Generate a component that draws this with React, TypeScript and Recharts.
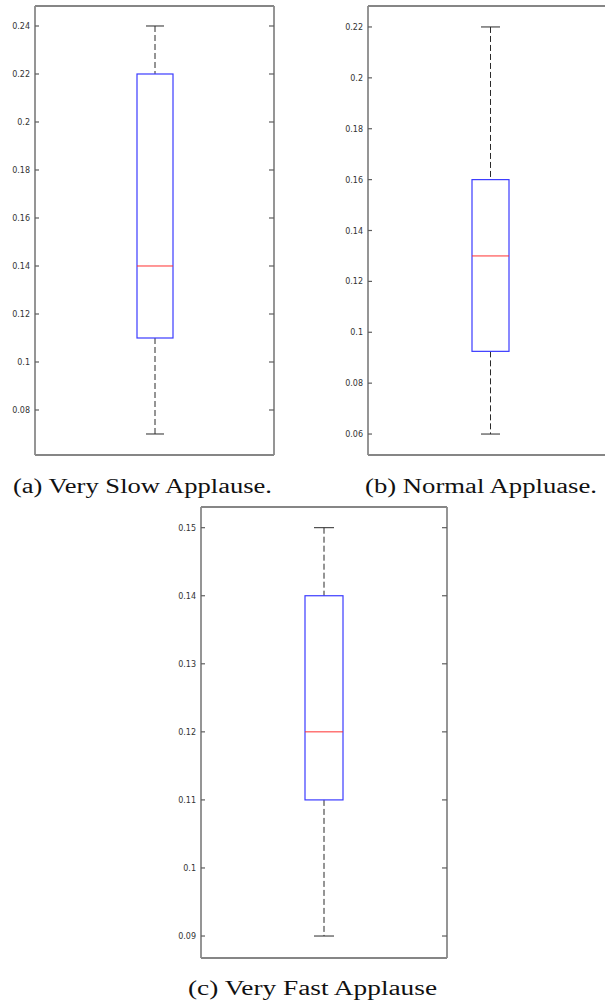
import React from 'react';
import { ComposedChart, Bar, XAxis, YAxis } from 'recharts';

// one box plot per applause speed
const captions = ['(a) Very Slow Applause.', '(b) Normal Appluase.', '(c) Very Fast Applause'];
const whiskerLow = [0.07, 0.06, 0.09];
const lowerQuartile = [0.11, 0.0925, 0.11];
const medians = [0.14, 0.13, 0.12];
const upperQuartile = [0.22, 0.16, 0.14];
const whiskerHigh = [0.24, 0.22, 0.15];
const yTicks = [
  [0.08, 0.1, 0.12, 0.14, 0.16, 0.18, 0.2, 0.22, 0.24],
  [0.06, 0.08, 0.1, 0.12, 0.14, 0.16, 0.18, 0.2, 0.22],
  [0.09, 0.1, 0.11, 0.12, 0.13, 0.14, 0.15],
];
const yDomains = [
  [0.06125, 0.24833],
  [0.05176, 0.22824],
  [0.08677, 0.15304],
];

const FRAME = '#5e5e5e';
const SIDE = '#8a8a8a';
const BOX = '#3b3bff';
const MEDIAN = '#ff3030';
const WHISKER = '#2a2a2a';

// axes with zero size are skipped by recharts, so the frame axes are 1px and the margins shrink by that much
const layouts = [
  { left: 0, top: 0, width: 280, height: 460, axisWidth: 35, margin: { top: 5, right: 5, bottom: 4, left: 0 }, barSize: 36, cap: 18, caption: { x: 13, y: 493, len: 259 } },
  { left: 330, top: 0, width: 290, height: 460, axisWidth: 38, margin: { top: 5, right: 7, bottom: 4, left: 0 }, barSize: 37, cap: 19, caption: { x: 365, y: 493, len: 232 } },
  { left: 160, top: 500, width: 292, height: 463, axisWidth: 41, margin: { top: 6, right: 4, bottom: 4, left: 0 }, barSize: 38, cap: 20, caption: { x: 188, y: 995, len: 249 } },
];

const fmt = (v: number) => String(Number(v.toFixed(2)));

const LeftTick = (props: any) => {
  const x = Number(props.x);
  const y = Number(props.y);
  return (
    <g>
      <line x1={x} x2={x + 4} y1={y} y2={y} stroke={FRAME} strokeWidth={1.2} />
      <text x={x - 5} y={y} dy={3} textAnchor="end" fontSize={8} fontFamily="DejaVu Sans" fill="#333">
        {fmt(props.payload.value)}
      </text>
    </g>
  );
};

const RightTick = (props: any) => {
  const x = Number(props.x);
  const y = Number(props.y);
  return <line x1={x - 5} x2={x} y1={y} y2={y} stroke={FRAME} strokeWidth={1.2} />;
};

const makeWhisker = (cap: number, atTop: boolean) => (props: any) => {
  const { x, y, width, height } = props;
  const cx = x + width / 2;
  const capY = atTop ? y : y + height;
  return (
    <g>
      <line x1={cx} x2={cx} y1={y} y2={y + height} stroke={WHISKER} strokeDasharray="6 3" strokeWidth={1} />
      <line x1={cx - cap / 2} x2={cx + cap / 2} y1={capY} y2={capY} stroke={WHISKER} strokeWidth={1} />
    </g>
  );
};

const MedianLine = (props: any) => {
  const { x, y, width } = props;
  return <line x1={x} x2={x + width} y1={y} y2={y} stroke={MEDIAN} strokeWidth={1} />;
};

const BoxRect = (props: any) => {
  const { x, y, width, height } = props;
  return <rect x={x} y={y} width={width} height={height} fill="none" stroke={BOX} strokeWidth={1.2} />;
};

function BoxPanel({ i }: { i: number }) {
  const l = layouts[i];
  const data = [
    {
      name: captions[i],
      box: [lowerQuartile[i], upperQuartile[i]],
      upper: [upperQuartile[i], whiskerHigh[i]],
      lower: [whiskerLow[i], lowerQuartile[i]],
      mid: [medians[i], medians[i]],
    },
  ];
  return (
    <div style={{ position: 'absolute', left: l.left, top: l.top }}>
      <ComposedChart width={l.width} height={l.height} data={data} margin={l.margin}>
        <XAxis xAxisId="box" dataKey="name" height={1} tick={false} tickLine={false} axisLine={{ stroke: FRAME, strokeWidth: 1.5 }} />
        <XAxis xAxisId="top" dataKey="name" orientation="top" height={1} tick={false} tickLine={false} axisLine={{ stroke: FRAME, strokeWidth: 1.5 }} />
        <XAxis xAxisId="low" dataKey="name" hide />
        <XAxis xAxisId="mid" dataKey="name" hide />
        <YAxis
          yAxisId="left"
          width={l.axisWidth}
          domain={yDomains[i]}
          ticks={yTicks[i]}
          allowDataOverflow
          type="number"
          tickSize={0}
          tickMargin={0}
          tickLine={false}
          tick={<LeftTick />}
          axisLine={{ stroke: SIDE, strokeWidth: 1.8 }}
          interval={0}
        />
        <YAxis
          yAxisId="right"
          orientation="right"
          width={1}
          domain={yDomains[i]}
          ticks={yTicks[i]}
          allowDataOverflow
          type="number"
          tickSize={0}
          tickMargin={0}
          tickLine={false}
          tick={<RightTick />}
          axisLine={{ stroke: SIDE, strokeWidth: 1.8 }}
          interval={0}
        />
        <Bar xAxisId="top" yAxisId="left" dataKey="upper" barSize={l.barSize} shape={makeWhisker(l.cap, true)} isAnimationActive={false} />
        <Bar xAxisId="low" yAxisId="left" dataKey="lower" barSize={l.barSize} shape={makeWhisker(l.cap, false)} isAnimationActive={false} />
        <Bar xAxisId="box" yAxisId="left" dataKey="box" barSize={l.barSize} shape={<BoxRect />} isAnimationActive={false} />
        <Bar xAxisId="mid" yAxisId="right" dataKey="mid" barSize={l.barSize} shape={<MedianLine />} isAnimationActive={false} />
      </ComposedChart>
    </div>
  );
}

export default function App() {
  return (
    <div style={{ position: 'absolute', left: 0, top: 0, width: 605, height: 1008, overflow: 'hidden', background: '#fff' }}>
      {layouts.map((_, i) => (
        <BoxPanel key={i} i={i} />
      ))}
      <svg width={605} height={1008} style={{ position: 'absolute', left: 0, top: 0, pointerEvents: 'none' }}>
        {layouts.map((l, i) => (
          <text
            key={i}
            x={l.caption.x}
            y={l.caption.y}
            textLength={l.caption.len}
            lengthAdjust="spacingAndGlyphs"
            fontSize={20}
            fontFamily="Liberation Serif"
            fill="#111"
          >
            {captions[i]}
          </text>
        ))}
      </svg>
    </div>
  );
}
